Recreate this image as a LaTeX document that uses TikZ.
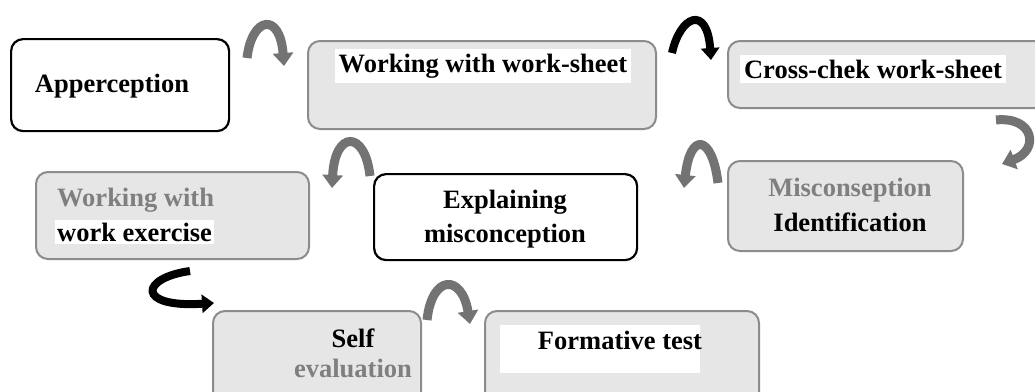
\documentclass[tikz,border=0pt]{standalone}
\usepackage{fontspec}
\setmainfont{Liberation Serif}
\usetikzlibrary{arrows.meta}
\definecolor{boxfill}{HTML}{E6E6E6}
\definecolor{boxline}{HTML}{8C8C8C}
\definecolor{graytext}{HTML}{7F7F7F}
\definecolor{arrowgray}{HTML}{737373}
\tikzset{
  graybox/.style={draw=boxline, fill=boxfill, line width=2pt, rounded corners=12pt, anchor=north west, inner sep=0pt},
  whitebox/.style={draw=black, fill=white, line width=2.2pt, rounded corners=12pt, anchor=north west, inner sep=0pt},
  lbl/.style={font=\fontsize{26.5}{33}\selectfont\bfseries, inner sep=0pt, align=center},
  wlbl/.style={lbl, fill=white, inner xsep=4pt, inner ysep=5pt},
  garrow/.style={draw=arrowgray, line width=9pt, -{Triangle[width=20pt,length=13pt]}},
  barrow/.style={draw=black, line width=8pt, -{Triangle[width=18pt,length=12pt]}},
}
\begin{document}
\begin{tikzpicture}[x=1pt,y=-1pt]
\clip (0,0) rectangle (1035,391);
\fill[white] (0,0) rectangle (1035,391);
% boxes
\node[whitebox, minimum width=218pt, minimum height=92pt] (apper) at (10,38) {};
\node[graybox, minimum width=348pt, minimum height=88pt] (wws) at (307,40) {};
\node[graybox, minimum width=330pt, minimum height=67pt] (cross) at (727,40) {};
\node[graybox, minimum width=273pt, minimum height=87pt] (exer) at (35,171) {};
\node[whitebox, minimum width=263pt, minimum height=86pt] (expl) at (373,173) {};
\node[graybox, minimum width=235pt, minimum height=90pt] (misc) at (727,160) {};
\node[graybox, minimum width=208pt, minimum height=100pt] (self) at (212,310) {};
\node[graybox, minimum width=274pt, minimum height=100pt] (form) at (484,310) {};
% labels
\node[lbl] (tapper) at (112,86) {Apperception};
\node[wlbl] (twws) at (483,66) {Working with work-sheet};
\node[wlbl] (tcross) at (873,69) {Cross-chek work-sheet};
\node[lbl, text=graytext, anchor=west] (texer1) at (57,200) {Working with};
\node[lbl, anchor=west, fill=white, inner xsep=2pt, inner ysep=3pt] (texer2) at (55,232) {work exercise};
\node[lbl] (texpl1) at (505,202) {Explaining};
\node[lbl] (texpl2) at (505,236) {misconception};
\node[lbl, text=graytext] (tmisc1) at (850,190) {Misconseption};
\node[lbl] (tmisc2) at (850,222) {Identification};
\node[lbl] (tself1) at (353,338) {Self};
\node[lbl, text=graytext] (tself2) at (353,368) {evaluation};
\node[wlbl, minimum width=200pt, minimum height=48pt] (tform) at (600,349) {};
\node[lbl] (tform2) at (620,340) {Formative test};
% curved arrows
\coordinate (a1s) at (247,58); \coordinate (a1e) at (284,66);
\draw[garrow] (a1s) .. controls (252,16) and (280,12) .. (a1e);
\coordinate (a2s) at (672,53); \coordinate (a2e) at (711,60);
\draw[barrow] (a2s) .. controls (680,16) and (707,4) .. (a2e);
\coordinate (a3s) at (996,120); \coordinate (a3e) at (1002,164);
\draw[garrow] (a3s) .. controls (1034,116) and (1040,150) .. (a3e);
\coordinate (a4s) at (718,183); \coordinate (a4e) at (684,188);
\draw[garrow] (a4s) .. controls (712,134) and (690,132) .. (a4e);
\coordinate (a5s) at (370,176); \coordinate (a5e) at (332,188);
\draw[garrow] (a5s) .. controls (365,130) and (335,130) .. (a5e);
\coordinate (a6s) at (190,271); \coordinate (a6e) at (214,303);
\draw[barrow] (a6s) .. controls (140,278) and (136,308) .. (a6e);
\coordinate (a7s) at (427,320); \coordinate (a7e) at (470,324);
\draw[garrow] (a7s) .. controls (432,274) and (462,274) .. (a7e);
\end{tikzpicture}
\end{document}
